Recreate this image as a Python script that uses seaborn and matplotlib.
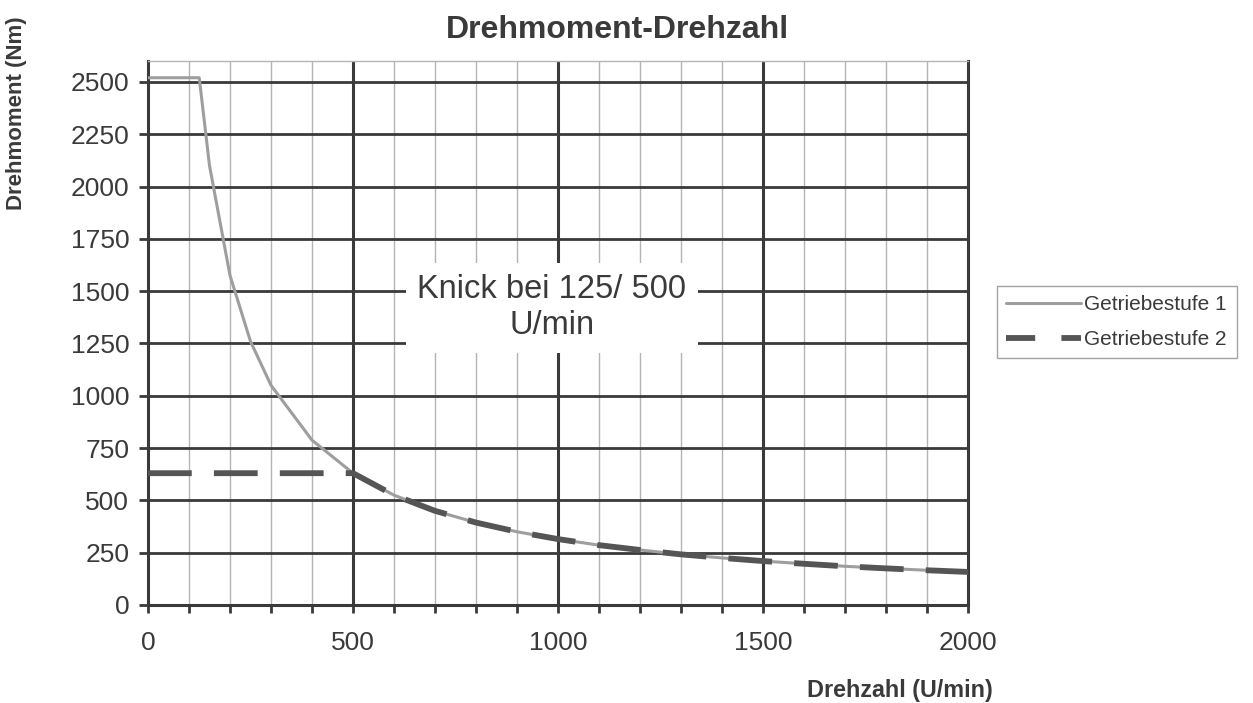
import numpy as np
import pandas as pd
import matplotlib
matplotlib.use('Agg')
import matplotlib.pyplot as plt
import seaborn as sns
from matplotlib.ticker import MultipleLocator

# values
drehzahl_1 = [0, 125, 150, 200, 250, 300, 400, 500, 600, 700, 800, 900, 1000,
              1100, 1200, 1300, 1400, 1500, 1600, 1700, 1800, 1900, 2000]
moment_1 = [2520, 2520, 2100, 1575, 1260, 1050, 788, 630, 525, 450, 394, 350, 315,
            286, 263, 242, 225, 210, 197, 185, 175, 166, 158]
drehzahl_2 = [0, 500, 600, 700, 800, 900, 1000, 1100, 1200, 1300, 1400, 1500,
              1600, 1700, 1800, 1900, 2000]
moment_2 = [630, 630, 525, 450, 394, 350, 315, 286, 263, 242, 225, 210,
            197, 185, 175, 166, 158]
serien = ['Getriebestufe 1', 'Getriebestufe 2']

sns.set_style('white')
plt.rcParams['font.family'] = ['Liberation Sans', 'DejaVu Sans']

df1 = pd.DataFrame({'n': drehzahl_1, 'M': moment_1})
df2 = pd.DataFrame({'n': drehzahl_2, 'M': moment_2})

fig = plt.figure(figsize=(12.53, 7.03), dpi=100)
ax = fig.add_axes([148 / 1253, 1 - 605 / 703, (968 - 148) / 1253, (605 - 61) / 703])

# grid
ax.set_xlim(0, 2000)
ax.set_ylim(0, 2600)
for x in range(100, 2000, 100):
    if x % 500 == 0:
        ax.axvline(x, color='#3a3a3a', lw=2.2, zorder=1)
    else:
        ax.axvline(x, color='#b4b4b4', lw=1.0, zorder=1)
for y in range(250, 2600, 250):
    ax.axhline(y, color='#3a3a3a', lw=2.0, zorder=1)

sns.lineplot(data=df1, x='n', y='M', ax=ax, sort=False, color='#9e9e9e', lw=2.2,
             label=serien[0], zorder=3)
sns.lineplot(data=df2, x='n', y='M', ax=ax, sort=False, color='#555555', lw=4.2,
             dashes=False, label=serien[1], zorder=4)
ax.lines[-1].set_dashes((7.5, 3.8))

ax.text(985, 1420, 'Knick bei 125/ 500\nU/min', ha='center', va='center', fontsize=23.5,
        color='#3a3a3a', linespacing=1.2, zorder=5,
        bbox=dict(boxstyle='square,pad=0.35', fc='white', ec='none'))

# spines
for s in ['left', 'bottom', 'right']:
    ax.spines[s].set_color('#3a3a3a')
    ax.spines[s].set_linewidth(2.2)
ax.spines['top'].set_color('#b4b4b4')
ax.spines['top'].set_linewidth(1.0)

ax.xaxis.set_major_locator(MultipleLocator(500))
ax.xaxis.set_minor_locator(MultipleLocator(100))
ax.set_yticks(range(0, 2501, 250))
ax.tick_params(axis='x', which='both', direction='out', bottom=True, length=5.8,
               width=2, color='#3a3a3a', labelsize=19, labelcolor='#3a3a3a', pad=13)
ax.tick_params(axis='y', which='major', direction='out', left=True, length=6.5,
               width=2, color='#3a3a3a', labelsize=19, labelcolor='#3a3a3a', pad=7)
ax.set_xlabel('')
ax.set_ylabel('')

fig.text(617 / 1253, 1 - 30 / 703, 'Drehmoment-Drehzahl', ha='center', va='center',
         fontsize=23, fontweight='bold', color='#3a3a3a')
fig.text(17 / 1253, 1 - 113 / 703, 'Drehmoment (Nm)', ha='center', va='center',
         rotation=90, fontsize=16, fontweight='bold', color='#3a3a3a')
fig.text(993 / 1253, 1 - 690 / 703, 'Drehzahl (U/min)', ha='right', va='center',
         fontsize=16.8, fontweight='bold', color='#3a3a3a')

# legend outside on the right
ax.get_legend().remove()
h, l = ax.get_legend_handles_labels()
leg = fig.legend(h, l, loc='upper left', bbox_to_anchor=(997 / 1253, 1 - 286 / 703),
                 borderaxespad=0, fontsize=15, frameon=True, fancybox=False,
                 handlelength=3.6, handletextpad=0.15, labelspacing=0.75,
                 borderpad=0.45, labelcolor='#3a3a3a')
leg.get_lines()[1].set_dashes((5, 4.5))
leg.get_frame().set_edgecolor('#8c8c8c')
leg.get_frame().set_linewidth(1.0)

fig.savefig('out.png', dpi=100)
